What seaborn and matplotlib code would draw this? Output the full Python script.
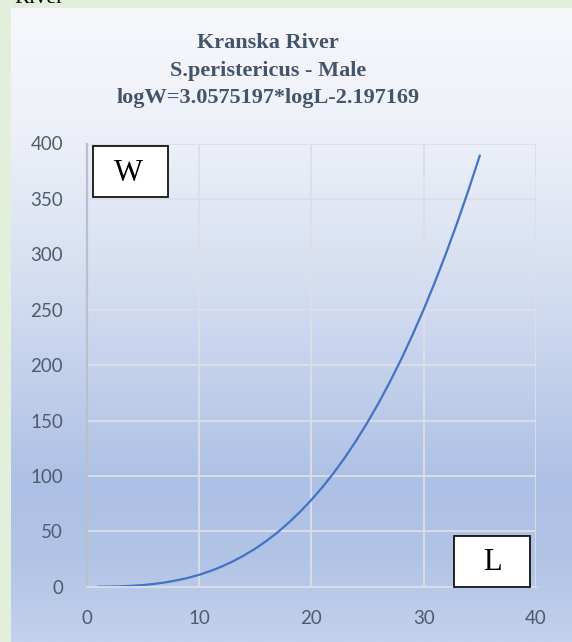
import numpy as np
import pandas as pd
import matplotlib
matplotlib.use("Agg")
import matplotlib.pyplot as plt
import seaborn as sns
from matplotlib.colors import to_rgb
from matplotlib.patches import Rectangle

# ---- data ----
length_L = [1, 2, 3, 4, 5, 6, 7, 8, 9, 10, 11, 12, 13, 14, 15, 16, 17, 18,
            19, 20, 21, 22, 23, 24, 25, 26, 27, 28, 29, 30, 31, 32, 33, 34, 35]
weight_W = [0.0, 0.1, 0.3, 0.8, 1.5, 2.5, 3.9, 5.7, 7.9, 10.7, 14.1, 18.1,
            22.8, 28.2, 34.3, 41.3, 49.1, 57.9, 67.6, 78.3, 90.0, 102.8, 116.8,
            132.0, 148.4, 166.0, 185.0, 205.3, 227.1, 250.2, 274.9, 301.1,
            328.9, 358.3, 389.2]
x_ticks = [0, 10, 20, 30, 40]
y_ticks = [0, 50, 100, 150, 200, 250, 300, 350, 400]
title_lines = ["Kranska River", "S.peristericus - Male", "logW=3.0575197*logL-2.197169"]

df = pd.DataFrame({"L": length_L, "W": weight_W})

sns.set_style("white")
plt.rcParams["font.family"] = ["Lato", "DejaVu Sans"]

W_PX, H_PX = 572, 642
fig = plt.figure(figsize=(W_PX / 100, H_PX / 100), dpi=100)
fig.patch.set_facecolor("#E2EFDA")

# gradient panel background
bg = fig.add_axes([11 / W_PX, 0, 1 - 11 / W_PX, 1 - 8 / H_PX], zorder=0)
stops = [(0.0, "#F7F8FC"), (0.2, "#EDF0F8"), (0.46, "#D2DCF0"),
         (0.75, "#ADC0E5"), (0.87, "#B2C4E6"), (1.0, "#C2D1EC")]
n = 400
fr = np.linspace(0, 1, n)
pos = [s[0] for s in stops]
cols = np.array([to_rgb(s[1]) for s in stops])
grad = np.stack([np.interp(fr, pos, cols[:, k]) for k in range(3)], axis=-1)
bg.imshow(grad[:, None, :], aspect="auto", extent=[0, 1, 0, 1], interpolation="bilinear")
bg.set_axis_off()

# main axes
left, right = 86.7 / W_PX, 536 / W_PX
bottom, top = 1 - 586.7 / H_PX, 1 - 143.5 / H_PX
ax = fig.add_axes([left, bottom, right - left, top - bottom], zorder=2)
ax.patch.set_alpha(0)

sns.lineplot(data=df, x="L", y="W", ax=ax, color="#4472C4", linewidth=1.6)

ax.set_xlim(0, 40)
ax.set_ylim(0, 400)
ax.set_xticks(x_ticks)
ax.set_yticks(y_ticks)
ax.set_xticklabels([str(t) for t in x_ticks])
ax.set_yticklabels([str(t) for t in y_ticks])
ax.set_xlabel("")
ax.set_ylabel("")
ax.grid(True, color="#DCDFE6", linewidth=1.3)
ax.set_axisbelow(True)
for s in ["top", "right"]:
    ax.spines[s].set_visible(False)
ax.spines["bottom"].set_color("#DCDFE6")
ax.spines["bottom"].set_linewidth(1.3)
ax.spines["left"].set_color("#B9C0CC")
ax.spines["left"].set_linewidth(1.6)
ax.tick_params(axis="both", length=0, labelsize=13.5, labelcolor="#4F5B6E")
ax.tick_params(axis="y", pad=17)
ax.tick_params(axis="x", pad=17)

# title
title_y = [43, 71, 98]
for txt, yp in zip(title_lines, title_y):
    fig.text(268 / W_PX, 1 - yp / H_PX, txt, ha="center", va="center",
             fontsize=16, fontweight="bold", color="#44546A",
             family=["Liberation Serif", "DejaVu Serif"])

# partly visible text at very top-left (cut off in the reference too)
fig.text(14 / W_PX, 1 - 3 / H_PX, "River", ha="left", va="baseline",
         fontsize=16, color="black", family=["Liberation Serif", "DejaVu Serif"])

# W and L boxes
def box(x0, y0, x1, y1, label, tx, ty):
    fig.patches.append(Rectangle((x0 / W_PX, 1 - y1 / H_PX), (x1 - x0) / W_PX,
                                 (y1 - y0) / H_PX, transform=fig.transFigure,
                                 facecolor="white", edgecolor="black",
                                 linewidth=1.2, zorder=5))
    fig.text(tx / W_PX, 1 - ty / H_PX, label, ha="center", va="center",
             fontsize=22, color="black", zorder=6,
             family=["Liberation Serif", "DejaVu Serif"])

box(93, 146, 168, 197, "W", 128, 174)
box(454, 536, 530, 587, "L", 492.5, 563)

fig.savefig("out.png", dpi=100, facecolor=fig.get_facecolor())
